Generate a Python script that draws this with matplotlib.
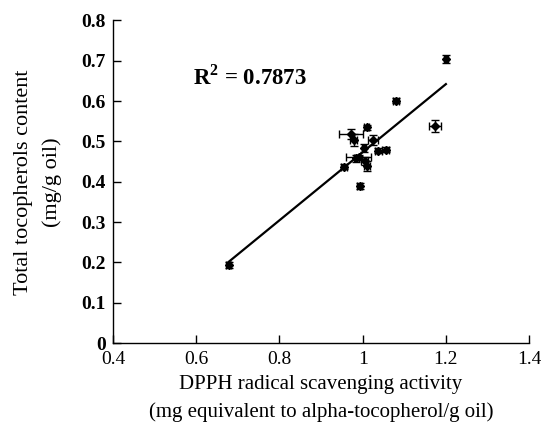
import matplotlib
matplotlib.use("Agg")
import matplotlib.pyplot as plt
import numpy as np
from matplotlib.ticker import FuncFormatter

plt.rcParams["font.family"] = ["Liberation Serif", "DejaVu Serif"]
plt.rcParams["mathtext.fontset"] = "custom"
plt.rcParams["mathtext.rm"] = "Liberation Serif"
plt.rcParams["mathtext.bf"] = "Liberation Serif:bold"

# ── data ─────────────────────────────────────────────────────────────────────
dpph = [0.678, 1.200, 1.080, 1.174, 1.010, 0.972, 0.978, 1.025, 1.038,
        1.055, 1.003, 0.955, 0.990, 1.005, 1.010, 0.993, 0.985]
toco = [0.194, 0.705, 0.601, 0.538, 0.535, 0.518, 0.503, 0.503, 0.477,
        0.480, 0.483, 0.437, 0.462, 0.452, 0.440, 0.390, 0.458]
dpph_err = [0.006, 0.005, 0.007, 0.015, 0.006, 0.028, 0.008, 0.012, 0.008,
            0.008, 0.005, 0.008, 0.030, 0.008, 0.008, 0.006, 0.006]
toco_err = [0.008, 0.010, 0.006, 0.015, 0.006, 0.012, 0.015, 0.012, 0.006,
            0.006, 0.010, 0.006, 0.005, 0.010, 0.012, 0.008, 0.008]

x_ticks = [0.4, 0.6, 0.8, 1.0, 1.2, 1.4]
y_ticks = [0, 0.1, 0.2, 0.3, 0.4, 0.5, 0.6, 0.7, 0.8]
r2_label = "0.7873"

# ── plot ─────────────────────────────────────────────────────────────────────
fig = plt.figure(figsize=(5.41, 4.36), dpi=100)
ax = fig.add_axes([0.209, 0.213, 0.769, 0.740])

ax.errorbar(dpph, toco, xerr=dpph_err, yerr=toco_err, fmt="D", color="black",
            markersize=4.5, ecolor="black", elinewidth=1, capsize=3, capthick=1)

# linear trendline over the data range
slope, intercept = np.polyfit(dpph, toco, 1)
xs = np.array([min(dpph), max(dpph)])
ax.plot(xs, slope * xs + intercept, color="black", lw=1.6)

ax.text(0.592, 0.66, r"R$^{\mathbf{2}}$ = " + r2_label, fontsize=16.5,
        fontweight="bold", va="center", ha="left")

ax.set_xlim(0.4, 1.4)
ax.set_ylim(0, 0.8)
ax.set_xticks(x_ticks)
ax.set_yticks(y_ticks)
ax.xaxis.set_major_formatter(FuncFormatter(lambda v, p: f"{v:g}"))
ax.yaxis.set_major_formatter(FuncFormatter(lambda v, p: f"{v:g}"))
ax.tick_params(direction="in", length=6, width=1, labelsize=14)
ax.tick_params(axis="x", pad=6)
ax.tick_params(axis="y", pad=5)
for lbl in ax.get_yticklabels():
    lbl.set_fontweight("bold")

for side in ["top", "right"]:
    ax.spines[side].set_visible(False)
for side in ["left", "bottom"]:
    ax.spines[side].set_linewidth(1)

ax.set_xlabel("DPPH radical scavenging activity\n"
              "(mg equivalent to alpha-tocopherol/g oil)",
              fontsize=15, linespacing=1.55, labelpad=5)
ax.set_ylabel("Total tocopherols content\n(mg/g oil)",
              fontsize=16, linespacing=1.65, labelpad=14)

fig.savefig("out.png", dpi=100)
